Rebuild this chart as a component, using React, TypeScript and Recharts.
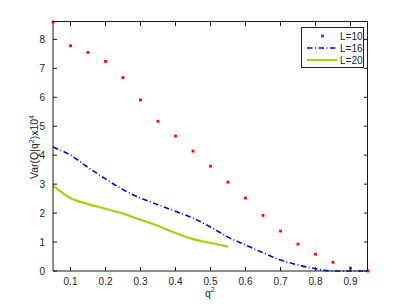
import { LineChart, Line, XAxis, YAxis } from 'recharts'

const Q2 = [0.05, 0.1, 0.15, 0.2, 0.25, 0.3, 0.35, 0.4, 0.45, 0.5, 0.55, 0.6, 0.65, 0.7, 0.75, 0.8, 0.85, 0.9, 0.95]
const L10 = [8.6, 7.78, 7.55, 7.24, 6.68, 5.91, 5.17, 4.66, 4.14, 3.62, 3.07, 2.52, 1.92, 1.38, 0.93, 0.58, 0.3, 0.1, 0]
const L16 = [4.28, 4.0, 3.58, 3.18, 2.81, 2.52, 2.29, 2.06, 1.83, 1.52, 1.17, 0.9, 0.63, 0.38, 0.21, 0.08, 0, 0, 0]
const L20 = [2.95, 2.52, 2.31, 2.15, 1.98, 1.77, 1.56, 1.31, 1.1, 0.97, 0.84]
const X_TICKS = [0.1, 0.2, 0.3, 0.4, 0.5, 0.6, 0.7, 0.8, 0.9]
const Y_TICKS = [0, 1, 2, 3, 4, 5, 6, 7, 8]

const data = Q2.map((q, i) => ({
  q,
  l10: L10[i],
  l16: L16[i],
  l20: i < L20.length ? L20[i] : null,
}))

const FONT = 'Liberation Sans, Arial, sans-serif'
const AXIS = '#1a1a1a'
const W = 407
const H = 306
const Y_AXIS_W = 53
const X_AXIS_H = 35
const MARGIN = { top: 22, right: 39, bottom: 0, left: 0 }
const PLOT_TOP = MARGIN.top
const PLOT_RIGHT = W - MARGIN.right
const PLOT_BOTTOM = H - X_AXIS_H

// inward ticks, MATLAB style, mirrored on the top / right edges of the box
function BottomTick(props: any) {
  const { x, y, payload } = props
  return (
    <g>
      <rect x={x - 0.5} y={y - 4} width={1} height={4} fill={AXIS} />
      <rect x={x - 0.5} y={PLOT_TOP} width={1} height={4} fill={AXIS} />
      <text x={x} y={y + 14} textAnchor="middle" fontSize={10} fontFamily={FONT} fill="#222">
        {payload.value}
      </text>
    </g>
  )
}
function LeftTick(props: any) {
  const { x, y, payload } = props
  return (
    <g>
      <rect x={x} y={y - 0.5} width={4} height={1} fill={AXIS} />
      <rect x={PLOT_RIGHT - 4} y={y - 0.5} width={4} height={1} fill={AXIS} />
      <text x={x - 8} y={y + 4} textAnchor="end" fontSize={10} fontFamily={FONT} fill="#222">
        {payload.value}
      </text>
    </g>
  )
}

function Dot(props: any) {
  const { cx, cy } = props
  if (cx == null || cy == null) return null
  return <rect x={cx - 1.4} y={cy - 1.4} width={2.8} height={2.8} fill="#ff0000" />
}

export default function App() {
  return (
    <div style={{ position: 'absolute', left: 0, top: 0, width: W, height: H, background: '#fff', fontFamily: FONT }}>
      <LineChart width={W} height={H} data={data} margin={MARGIN}>
        <XAxis
          dataKey="q"
          type="number"
          domain={[0.05, 0.95]}
          ticks={X_TICKS}
          height={X_AXIS_H}
          tickSize={0}
          tickMargin={0}
          tick={<BottomTick />}
          axisLine={{ stroke: AXIS }}
          tickLine={false}
        />
        <YAxis
          type="number"
          domain={[0, 8.6]}
          ticks={Y_TICKS}
          width={Y_AXIS_W}
          tickSize={0}
          tickMargin={0}
          tick={<LeftTick />}
          axisLine={{ stroke: AXIS }}
          tickLine={false}
        />
        <Line
          dataKey="l20"
          type="monotone"
          stroke="#a6d10c"
          strokeWidth={2.2}
          dot={false}
          connectNulls={false}
          isAnimationActive={false}
        />
        <Line
          dataKey="l16"
          type="monotone"
          stroke="#0000ff"
          strokeWidth={1.6}
          strokeDasharray="5.5 2.5 1 2.5"
          dot={false}
          isAnimationActive={false}
        />
        <Line
          dataKey="l10"
          stroke="none"
          dot={<Dot />}
          activeDot={false}
          isAnimationActive={false}
        />
      </LineChart>

      {/* axis titles */}
      <svg width={W} height={H} style={{ position: 'absolute', left: 0, top: 0, pointerEvents: 'none' }}>
        <text
          transform="translate(38 147) rotate(-90)"
          textAnchor="middle"
          fontSize={10.5}
          fontFamily={FONT}
          fill="#222"
        >
          Var(Q|q<tspan dy={-4} fontSize={7}>2</tspan>
          <tspan dy={4}>)x10</tspan>
          <tspan dy={-4} fontSize={7}>4</tspan>
        </text>
        <text x={205} y={297} fontSize={10.5} fontFamily={FONT} fill="#222">
          q<tspan dy={-5} fontSize={7}>2</tspan>
        </text>
      </svg>

      {/* top and right edges of the axes box */}
      <div
        style={{
          position: 'absolute',
          zIndex: 5,
          pointerEvents: 'none',
          left: Y_AXIS_W,
          top: PLOT_TOP - 1,
          width: PLOT_RIGHT - Y_AXIS_W,
          height: PLOT_BOTTOM - PLOT_TOP + 1,
          borderTop: `1px solid ${AXIS}`,
          borderRight: `1px solid ${AXIS}`,
          boxSizing: 'border-box',
        }}
      />

      {/* legend */}
      <div
        style={{
          position: 'absolute',
          zIndex: 6,
          left: 301,
          top: 27,
          width: 61,
          height: 39,
          border: '1px solid #222',
          background: '#fff',
        }}
      >
        <svg width={61} height={39} style={{ position: 'absolute', left: 0, top: 0 }}>
          <rect x={19} y={6.5} width={2.8} height={2.8} fill="#ff0000" />
          <line x1={5} x2={35} y1={20} y2={20} stroke="#0000ff" strokeWidth={1.6} strokeDasharray="5.5 2.5 1 2.5" />
          <line x1={5} x2={35} y1={32} y2={32} stroke="#a6d10c" strokeWidth={2.2} />
          <text x={38} y={11.5} fontSize={10} fontFamily={FONT} fill="#222">L=10</text>
          <text x={38} y={23.5} fontSize={10} fontFamily={FONT} fill="#222">L=16</text>
          <text x={38} y={35.5} fontSize={10} fontFamily={FONT} fill="#222">L=20</text>
        </svg>
      </div>
    </div>
  )
}
